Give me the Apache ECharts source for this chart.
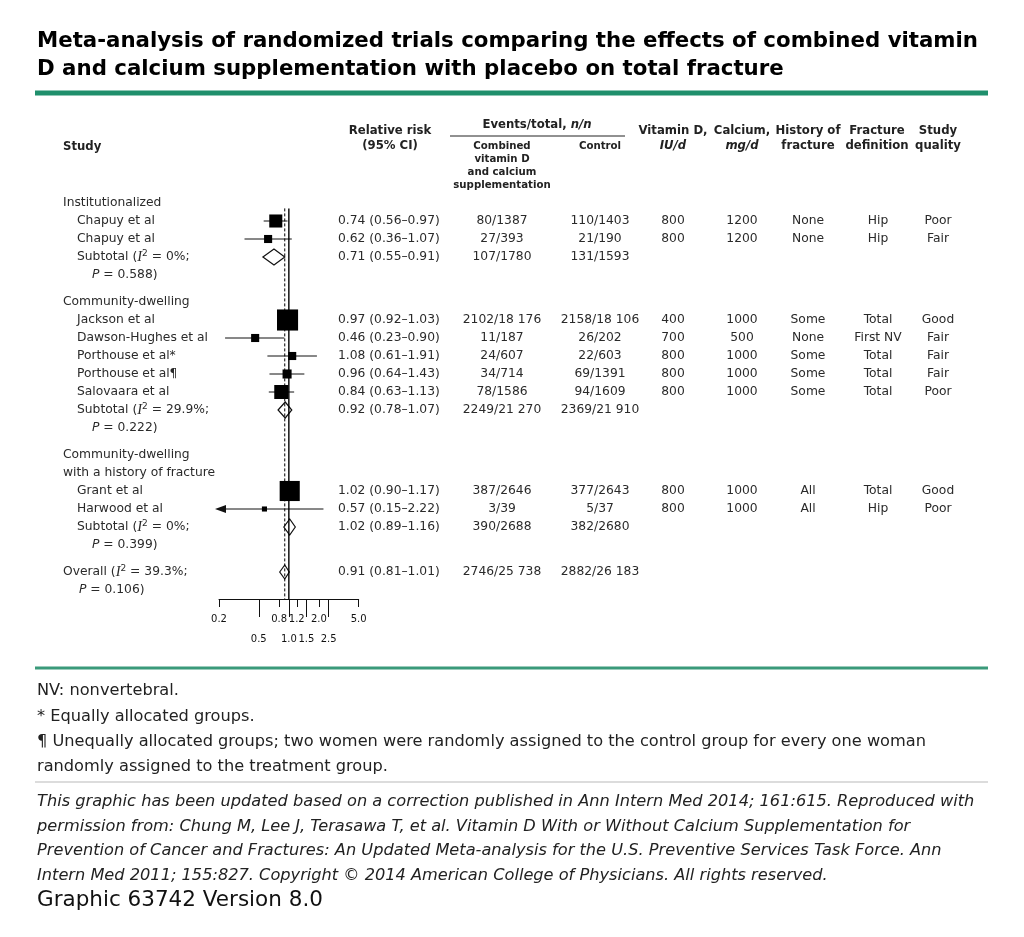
<!DOCTYPE html>
<html>
<head>
<meta charset="utf-8">
<script src="https://cdn.jsdelivr.net/npm/echarts@6/dist/echarts.min.js"></script>
<style>
html,body{margin:0;padding:0;background:#fff;}
#main{width:1024px;height:937px;}
</style>
</head>
<body>
<div id="main"></div>
<script>
// ---------------- DATA ----------------
const groupNames = [
  ['Institutionalized'],
  ['Community-dwelling'],
  ['Community-dwelling', 'with a history of fracture']
];
const studies = ['Chapuy et al', 'Chapuy et al', 'Jackson et al', 'Dawson-Hughes et al',
  'Porthouse et al*', 'Porthouse et al\u00b6', 'Salovaara et al', 'Grant et al', 'Harwood et al'];
const studyGroup = [0, 0, 1, 1, 1, 1, 1, 2, 2];
const rr     = [0.74, 0.62, 0.97, 0.46, 1.08, 0.96, 0.84, 1.02, 0.57];
const ciLow  = [0.56, 0.36, 0.92, 0.23, 0.61, 0.64, 0.63, 0.90, 0.15];
const ciHigh = [0.97, 1.07, 1.03, 0.90, 1.91, 1.43, 1.13, 1.17, 2.22];
const weightPct = [11.2, 4.3, 29.3, 4.3, 4.3, 5.4, 13.0, 26.6, 1.7]; // estimated from square sizes
const eventsCombined = ['80/1387', '27/393', '2102/18 176', '11/187', '24/607', '34/714', '78/1586', '387/2646', '3/39'];
const eventsControl  = ['110/1403', '21/190', '2158/18 106', '26/202', '22/603', '69/1391', '94/1609', '377/2643', '5/37'];
const vitaminD = ['800', '800', '400', '700', '800', '800', '800', '800', '800'];
const calcium  = ['1200', '1200', '1000', '500', '1000', '1000', '1000', '1000', '1000'];
const fxHistory = ['None', 'None', 'Some', 'None', 'Some', 'Some', 'Some', 'All', 'All'];
const fxDefinition = ['Hip', 'Hip', 'Total', 'First NV', 'Total', 'Total', 'Total', 'Total', 'Hip'];
const quality = ['Poor', 'Fair', 'Good', 'Fair', 'Fair', 'Fair', 'Poor', 'Good', 'Poor'];

const subRR   = [0.71, 0.92, 1.02];
const subLow  = [0.55, 0.78, 0.89];
const subHigh = [0.91, 1.07, 1.16];
const subI2   = ['0%', '29.9%', '0%'];
const subP    = ['0.588', '0.222', '0.399'];
const subCombined = ['107/1780', '2249/21 270', '390/2688'];
const subControl  = ['131/1593', '2369/21 910', '382/2680'];

const overallRR = 0.91, overallLow = 0.81, overallHigh = 1.01;
const overallI2 = '39.3%', overallP = '0.106';
const overallCombined = '2746/25 738', overallControl = '2882/26 183';

const tickLabelsUpper = [0.2, 0.8, 1.2, 2.0, 5.0];
const tickLabelsLower = [0.5, 1.0, 1.5, 2.5];
const axisMin = 0.2, axisMax = 5.0, nullValue = 1.0;

// ---------------- LAYOUT ----------------
const FONT = '"DejaVu Sans", Verdana, sans-serif';
const TXT = '#2a2a2a';
const FS = 12.3;
const X = {group: 63, study: 77, study2: 92, overall2: 79, rr: 338, tx: 502, ctl: 600,
  vd: 673, ca: 742, hist: 808, def: 878, qual: 938};

// row slots (half-line units)
const studySlot = [], groupSlots = [], subSlot = [];
let s = 0;
for (let g = 0; g < groupNames.length; g++) {
  groupSlots.push([]);
  groupNames[g].forEach(() => { groupSlots[g].push(s); s += 2; });
  studyGroup.forEach((gg, i) => { if (gg === g) { studySlot[i] = s; s += 2; } });
  subSlot[g] = s; s += 5;
}
const overallSlot = s;
const yMax = overallSlot + 3;   // axis baseline

const fmtCI = (a, b, c) => a.toFixed(2) + ' (' + b.toFixed(2) + '\u2013' + c.toFixed(2) + ')';
const leftCells = [], centerCells = [];
const L = (x, y, t) => leftCells.push({value: [x, y], name: t});
const C = (x, y, t) => centerCells.push({value: [x, y], name: t});

for (let g = 0; g < groupNames.length; g++) {
  groupNames[g].forEach((t, k) => L(X.group, groupSlots[g][k], t));
  studies.forEach((name, i) => {
    if (studyGroup[i] !== g) return;
    const y = studySlot[i];
    L(X.study, y, name);
    L(X.rr, y, fmtCI(rr[i], ciLow[i], ciHigh[i]));
    C(X.tx, y, eventsCombined[i]);
    C(X.ctl, y, eventsControl[i]);
    C(X.vd, y, vitaminD[i]);
    C(X.ca, y, calcium[i]);
    C(X.hist, y, fxHistory[i]);
    C(X.def, y, fxDefinition[i]);
    C(X.qual, y, quality[i]);
  });
  const y = subSlot[g];
  L(X.study, y, '{n|Subtotal (}{i|I}{s|2}{n| = ' + subI2[g] + ';}');
  L(X.study2, y + 2, '{p|P}{n| = ' + subP[g] + ')}');
  L(X.rr, y, fmtCI(subRR[g], subLow[g], subHigh[g]));
  C(X.tx, y, subCombined[g]);
  C(X.ctl, y, subControl[g]);
}
L(X.group, overallSlot, '{n|Overall (}{i|I}{s|2}{n| = ' + overallI2 + ';}');
L(X.overall2, overallSlot + 2, '{p|P}{n| = ' + overallP + ')}');
L(X.rr, overallSlot, fmtCI(overallRR, overallLow, overallHigh));
C(X.tx, overallSlot, overallCombined);
C(X.ctl, overallSlot, overallControl);

const rich = {
  n: {fontFamily: FONT, fontSize: FS, color: TXT, lineHeight: 16},
  i: {fontFamily: '"Liberation Serif", serif', fontStyle: 'italic', fontSize: 14.5, color: TXT, lineHeight: 16},
  s: {fontFamily: FONT, fontSize: 9, color: TXT, lineHeight: 16, verticalAlign: 'top'},
  p: {fontFamily: FONT, fontStyle: 'italic', fontSize: FS, color: TXT, lineHeight: 16}
};
const textSeries = (data, align) => ({
  type: 'scatter', xAxisIndex: 2, yAxisIndex: 1, data: data, symbolSize: 1, silent: true,
  itemStyle: {color: 'rgba(0,0,0,0)', opacity: 1}, clip: false,
  label: {show: true, position: 'inside', align: align, verticalAlign: 'middle', opacity: 1,
    formatter: p => p.name, fontFamily: FONT, fontSize: FS, color: TXT, rich: rich}
});

// ---------------- STATIC TEXT (graphic) ----------------
const g = [];
const T = (x, y, text, font, align, fill) => g.push({type: 'text', silent: true,
  style: {x: x, y: y, text: text, font: font, textAlign: align || 'left', textVerticalAlign: 'middle', fill: fill || '#111'}});
T(37, 41, 'Meta-analysis of randomized trials comparing the effects of combined vitamin', 'bold 21.3px ' + FONT, 'left', '#000');
T(37, 69, 'D and calcium supplementation with placebo on total fracture', 'bold 21.3px ' + FONT, 'left', '#000');
g.push({type: 'rect', silent: true, shape: {x: 35, y: 90.5, width: 953, height: 5}, style: {fill: '#1f8f6c'}});
const HB = 'bold 11.7px ' + FONT, HS = 'bold 10.2px ' + FONT, HI = 'italic bold 11.7px ' + FONT;
const HC = '#222';
T(63, 147, 'Study', HB, 'left', HC);
T(390, 131, 'Relative risk', HB, 'center', HC);
T(390, 146, '(95% CI)', HB, 'center', HC);
g.push({type: 'text', silent: true, style: {x: 537, y: 125, text: '{a|Events/total, }{b|n/n}', textAlign: 'center', textVerticalAlign: 'middle',
  rich: {a: {font: HB, fill: HC}, b: {font: HI, fill: HC}}}});
g.push({type: 'line', silent: true, shape: {x1: 450, y1: 136, x2: 625, y2: 136}, style: {stroke: '#222', lineWidth: 1}});
['Combined', 'vitamin D', 'and calcium', 'supplementation'].forEach((t, k) => T(502, 146 + k * 13, t, HS, 'center', HC));
T(600, 146, 'Control', HS, 'center', HC);
T(673, 131, 'Vitamin D,', HB, 'center', HC); T(673, 146, 'IU/d', HI, 'center', HC);
T(742, 131, 'Calcium,', HB, 'center', HC); T(742, 146, 'mg/d', HI, 'center', HC);
T(808, 131, 'History of', HB, 'center', HC); T(808, 146, 'fracture', HB, 'center', HC);
T(877, 131, 'Fracture', HB, 'center', HC); T(877, 146, 'definition', HB, 'center', HC);
T(938, 131, 'Study', HB, 'center', HC); T(938, 146, 'quality', HB, 'center', HC);

g.push({type: 'rect', silent: true, shape: {x: 35, y: 666.5, width: 953, height: 3}, style: {fill: '#3a9a7a'}});
const FN = '16.2px ' + FONT;
T(37, 691, 'NV: nonvertebral.', FN, 'left', '#222');
T(37, 716.5, '* Equally allocated groups.', FN, 'left', '#222');
T(37, 742, '\u00b6 Unequally allocated groups; two women were randomly assigned to the control group for every one woman', FN, 'left', '#222');
T(37, 766.5, 'randomly assigned to the treatment group.', FN, 'left', '#222');
g.push({type: 'rect', silent: true, shape: {x: 35, y: 781, width: 953, height: 2}, style: {fill: '#dcdcdc'}});
const FI = 'italic 16.2px ' + FONT;
T(37, 802, 'This graphic has been updated based on a correction published in Ann Intern Med 2014; 161:615. Reproduced with', FI, 'left', '#222');
T(37, 826.5, 'permission from: Chung M, Lee J, Terasawa T, et al. Vitamin D With or Without Calcium Supplementation for', FI, 'left', '#222');
T(37, 851, 'Prevention of Cancer and Fractures: An Updated Meta-analysis for the U.S. Preventive Services Task Force. Ann', FI, 'left', '#222');
T(37, 875.5, 'Intern Med 2011; 155:827. Copyright \u00a9 2014 American College of Physicians. All rights reserved.', FI, 'left', '#222');
T(37, 900, 'Graphic 63742 Version 8.0', '21.5px ' + FONT, 'left', '#111');

// ---------------- CHART ----------------
const chart = echarts.init(document.getElementById('main'));
const PLOT_TOP = 203, SLOT_PX = 9;
const lineTop = 0.6;
const axisBase = {
  type: 'log', logBase: 10, min: axisMin, max: axisMax, gridIndex: 0, position: 'bottom',
  splitLine: {show: false}, minorTick: {show: false}
};
chart.setOption({
  animation: false,
  backgroundColor: '#fff',
  grid: [
    {left: 219, top: PLOT_TOP, width: 139.7, height: yMax * SLOT_PX},
    {left: 0, top: PLOT_TOP, width: 1024, height: yMax * SLOT_PX}
  ],
  xAxis: [
    Object.assign({}, axisBase, {
      axisLine: {show: true, onZero: false, lineStyle: {color: '#111', width: 1}},
      axisTick: {show: true, customValues: tickLabelsUpper, length: 8, lineStyle: {color: '#111', width: 1}},
      axisLabel: {show: true, customValues: tickLabelsUpper, margin: 15, fontSize: 10, fontFamily: FONT, color: '#111',
        formatter: v => Number(v).toFixed(1)}
    }),
    Object.assign({}, axisBase, {
      axisLine: {show: false, onZero: false},
      axisTick: {show: true, customValues: tickLabelsLower, length: 18, lineStyle: {color: '#111', width: 1}},
      axisLabel: {show: true, customValues: tickLabelsLower, margin: 35, fontSize: 10, fontFamily: FONT, color: '#111',
        formatter: v => Number(v).toFixed(1)}
    }),
    {type: 'value', gridIndex: 1, min: 0, max: 1024, show: false}
  ],
  yAxis: [
    {type: 'value', gridIndex: 0, min: 0, max: yMax, inverse: true, show: false},
    {type: 'value', gridIndex: 1, min: 0, max: yMax, inverse: true, show: false}
  ],
  graphic: g,
  series: [
    // CI lines (with arrow when clipped by axis)
    {
      type: 'custom', xAxisIndex: 0, yAxisIndex: 0, clip: false, silent: true, z: 3,
      data: studies.map((n, i) => [ciLow[i], ciHigh[i], studySlot[i]]),
      encode: {x: [0, 1], y: 2},
      renderItem: (params, api) => {
        const lo = api.value(0), hi = api.value(1), y = api.value(2);
        const clipped = lo < axisMin;
        const p1 = api.coord([Math.max(lo, axisMin), y]);
        const p2 = api.coord([Math.min(hi, axisMax), y]);
        const children = [{type: 'line', shape: {x1: p1[0], y1: p1[1], x2: p2[0], y2: p2[1]},
          style: {stroke: '#111', lineWidth: 1}}];
        if (clipped) {
          children.push({type: 'polygon', shape: {points: [[p1[0] - 4, p1[1]], [p1[0] + 7, p1[1] - 4], [p1[0] + 7, p1[1] + 4]]},
            style: {fill: '#111'}});
        }
        return {type: 'group', children: children};
      }
    },
    // subtotal / overall diamonds
    {
      type: 'custom', xAxisIndex: 0, yAxisIndex: 0, clip: false, silent: true, z: 4,
      data: subRR.map((v, k) => [subLow[k], subHigh[k], v, subSlot[k], 16])
        .concat([[overallLow, overallHigh, overallRR, overallSlot, 14]]),
      encode: {x: [0, 1, 2], y: 3},
      renderItem: (params, api) => {
        const a = api.coord([api.value(0), api.value(3)]);
        const b = api.coord([api.value(1), api.value(3)]);
        const c = api.coord([api.value(2), api.value(3)]);
        const h = api.value(4) / 2;
        return {type: 'polygon', shape: {points: [[a[0], a[1]], [c[0], c[1] - h], [b[0], b[1]], [c[0], c[1] + h]]},
          style: {fill: '#fff', stroke: '#111', lineWidth: 1.2}};
      }
    },
    // null line
    {
      type: 'line', xAxisIndex: 0, yAxisIndex: 0, silent: true, symbol: 'none', z: 5,
      data: [[nullValue, lineTop], [nullValue, yMax]],
      lineStyle: {color: '#000', width: 1.4, opacity: 1}
    },
    // overall effect dashed line
    {
      type: 'line', xAxisIndex: 0, yAxisIndex: 0, silent: true, symbol: 'none', z: 5,
      data: [[overallRR, lineTop], [overallRR, yMax]],
      lineStyle: {color: '#000', width: 1, type: [3, 2], opacity: 1}
    },
    // study squares
    {
      type: 'scatter', xAxisIndex: 0, yAxisIndex: 0, silent: true, z: 6, clip: false,
      symbol: 'rect',
      data: studies.map((n, i) => [rr[i], studySlot[i], weightPct[i]]),
      symbolSize: v => 3.9 * Math.sqrt(v[2]),
      itemStyle: {color: '#000', opacity: 1}
    },
    textSeries(leftCells, 'left'),
    textSeries(centerCells, 'center')
  ]
});
</script>
</body>
</html>
